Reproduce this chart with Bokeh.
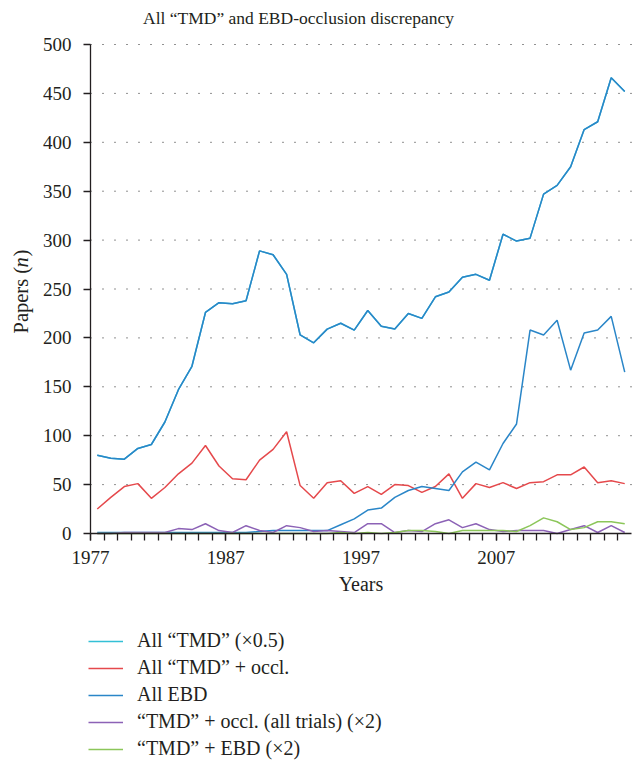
import math
from bokeh.plotting import figure
from bokeh.models import (Range1d, FixedTicker, Legend, LegendItem, Label, LinearAxis)
from bokeh.embed import file_html
from bokeh.resources import INLINE

# ---------------- data ----------------
years = list(range(1977, 2017))
all_tmd_half = [80, 77, 76, 87, 91, 114, 147, 171, 226, 236,
                235, 238, 289, 285, 265, 203, 195, 209, 215, 208,
                228, 212, 209, 225, 220, 242, 247, 262, 265, 259,
                306, 299, 302, 347, 356, 375, 413, 421, 466, 452]
tmd_occl = [25, 37, 48, 51, 36, 47, 61, 72, 90, 69,
            56, 55, 75, 86, 104, 49, 36, 52, 54, 41,
            48, 40, 50, 49, 42, 48, 61, 36, 51, 47,
            52, 46, 52, 53, 60, 60, 68, 52, 54, 51]
all_ebd = [1, 1, 1, 1, 1, 1, 1, 1, 1, 1,
           1, 1, 2, 3, 3, 3, 3, 3, 9, 15,
           24, 26, 37, 44, 48, 46, 44, 63, 73, 65,
           92, 112, 208, 203, 218, 167, 205, 208, 222, 165]
tmd_occl_trials2 = [0, 0, 1, 1, 1, 1, 5, 4, 10, 3,
                    1, 8, 3, 1, 8, 6, 2, 3, 2, 1,
                    10, 10, 1, 3, 2, 10, 14, 6, 10, 4,
                    2, 3, 3, 3, 0, 4, 8, 1, 8, 1]
tmd_ebd2 = [0, 0, 0, 0, 0, 0, 0, 0, 0, 0,
            0, 0, 0, 0, 0, 0, 0, 0, 1, 0,
            1, 0, 1, 3, 3, 2, 0, 3, 3, 3,
            3, 2, 8, 16, 12, 4, 6, 12, 12, 10]
labels = ["All \u201cTMD\u201d (\u00d70.5)", "All \u201cTMD\u201d + occl.", "All EBD",
          "\u201cTMD\u201d + occl. (all trials) (\u00d72)", "\u201cTMD\u201d + EBD (\u00d72)"]
major_years = [1977, 1987, 1997, 2007]
y_ticks = list(range(0, 501, 50))
title_text = "All \u201cTMD\u201d and EBD-occlusion discrepancy"
x_first, x_last = 1977, 2017   # extent of the category axis
y_min, y_max = 0, 500

# category centres (data sit between the yearly tick marks)
xc = [y + 0.5 for y in years]

FONT = "Liberation Serif"
INK = "#231f20"

# ---------------- layout (pixels) ----------------
W, H = 634, 760
FL, FR, FT, FB = 90, 631, 44, 533          # plot-area edges on the canvas
sx = (FR - FL) / (x_last - x_first)
sy = (FB - FT) / (y_max - y_min)
xr = Range1d(x_first - FL / sx, x_last + (W - FR) / sx)
yr = Range1d(y_min - (H - FB) / sy, y_max + FT / sy)

p = figure(width=W, height=H, output_backend="svg", toolbar_location=None,
           x_range=xr, y_range=yr, x_axis_location=None, y_axis_location=None,
           min_border=0)
p.outline_line_color = None
p.grid.visible = False

# axes pinned at the data origin
xaxis = LinearAxis(fixed_location=y_min, bounds=(x_first, x_last),
                   ticker=FixedTicker(ticks=major_years, minor_ticks=years))
yaxis = LinearAxis(fixed_location=x_first, bounds=(y_min, y_max),
                   ticker=FixedTicker(ticks=y_ticks))
for ax in (xaxis, yaxis):
    ax.axis_line_color = INK
    ax.axis_line_width = 1.3
    ax.major_tick_line_color = INK
    ax.major_tick_line_width = 1.3
    ax.major_tick_in = 0
    ax.major_tick_out = 7
    ax.major_label_text_font = FONT
    ax.major_label_text_font_size = "19px"
    ax.major_label_text_color = INK
    ax.axis_label_text_font = FONT
    ax.axis_label_text_font_size = "20px"
    ax.axis_label_text_font_style = "normal"
    ax.axis_label_text_color = INK
xaxis.minor_tick_line_color = INK
xaxis.minor_tick_line_width = 1.3
xaxis.minor_tick_in = 0
xaxis.minor_tick_out = 7
xaxis.major_label_standoff = 10
xaxis.axis_label = "Years"
xaxis.axis_label_standoff = 6
yaxis.minor_tick_line_color = None
yaxis.major_label_standoff = 12
p.add_layout(xaxis, "below")
p.add_layout(yaxis, "left")

# dotted horizontal gridlines at the y ticks
gy = [t for t in y_ticks if t > y_min]
p.segment(x0=[x_first] * len(gy), x1=[x_last] * len(gy), y0=gy, y1=gy,
          line_color="#222222", line_width=1, line_dash="1 11")

BLUE = "#2a86c8"
CYAN = "#33c0d6"
RED = "#e5494c"
PURPLE = "#8c62b6"
GREEN = "#8cc65a"
LW = 1.5

r_tmd = p.line(xc, all_tmd_half, line_color=CYAN, line_width=LW)
p.line(xc, all_tmd_half, line_color=BLUE, line_width=LW)
r_occl = p.line(xc, tmd_occl, line_color=RED, line_width=LW)
r_ebd = p.line(xc, all_ebd, line_color=BLUE, line_width=LW)
r_trials = p.line(xc, tmd_occl_trials2, line_color=PURPLE, line_width=LW)
r_tebd = p.line(xc, tmd_ebd2, line_color=GREEN, line_width=LW)

rends = [r_tmd, r_occl, r_ebd, r_trials, r_tebd]
legend = Legend(items=[LegendItem(label=l, renderers=[r]) for l, r in zip(labels, rends)],
                location=(88, 0), orientation="vertical")
legend.padding = 0
legend.margin = 0
legend.spacing = 4
legend.glyph_width = 35
legend.glyph_height = 20
legend.label_height = 20
legend.label_standoff = 14
legend.label_text_font = FONT
legend.label_text_font_size = "20px"
legend.label_text_color = INK
legend.background_fill_alpha = 0
legend.border_line_color = None
p.add_layout(legend, "center")

# title
p.add_layout(Label(x=298, y=H - 17, x_units="screen", y_units="screen", text=title_text,
                   text_align="center", text_baseline="middle", text_font=FONT,
                   text_font_size="17.5px", text_color=INK))

# y-axis title "Papers (n)" with italic n
y0 = H - 333
for txt, dy, style in (("Papers (", 0, "normal"), ("n", 66, "italic"), (")", 77, "normal")):
    p.add_layout(Label(x=20, y=y0 + dy, x_units="screen", y_units="screen", text=txt,
                       angle=math.pi / 2, text_align="left", text_baseline="middle",
                       text_font=FONT, text_font_size="20.5px", text_font_style=style,
                       text_color=INK))

open("out.html", "w").write(file_html(p, INLINE))
